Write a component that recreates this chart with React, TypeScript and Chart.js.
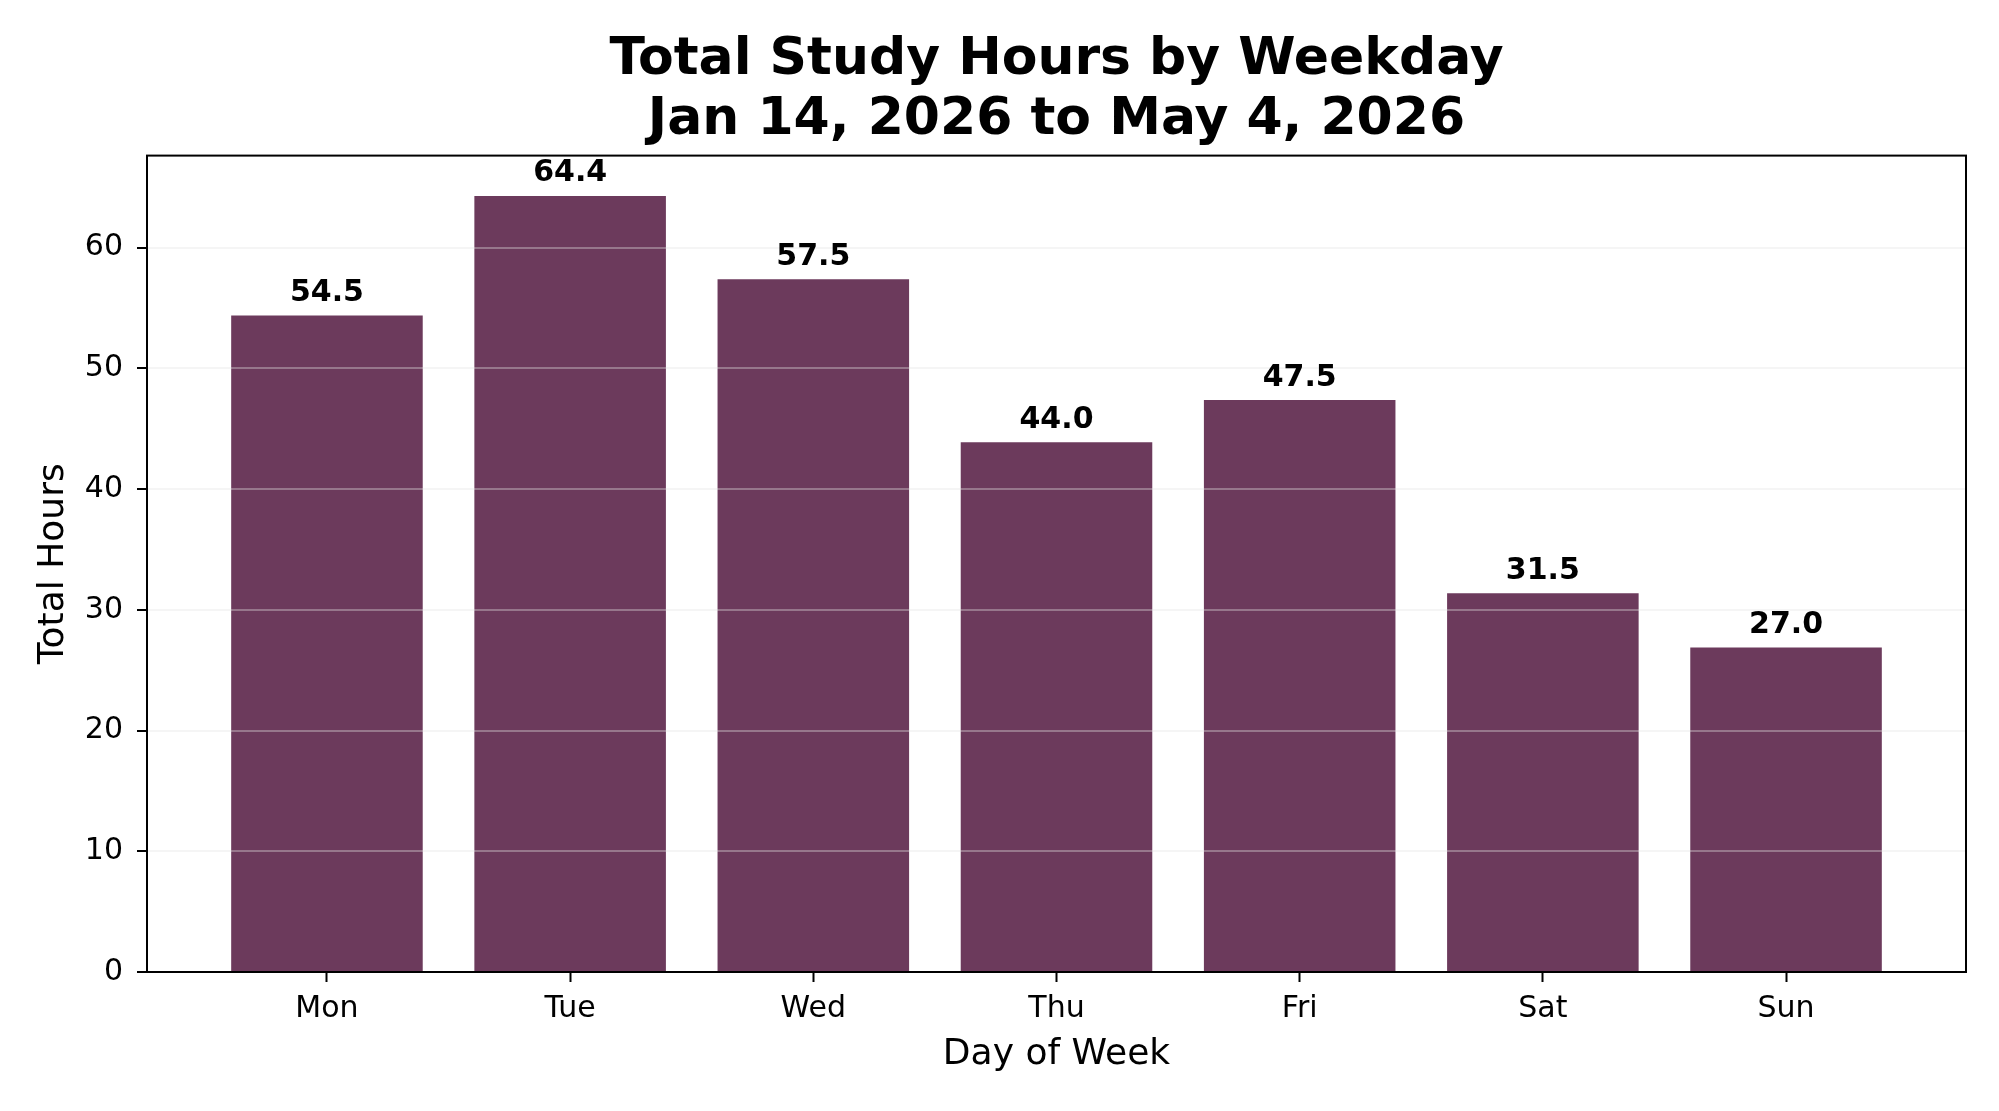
import { useEffect, useRef } from "react";
import { Chart, registerables } from "chart.js";

Chart.register(...registerables);

const days = ["Mon", "Tue", "Wed", "Thu", "Fri", "Sat", "Sun"];
const hours = [54.5, 64.4, 57.5, 44.0, 47.5, 31.5, 27.0];
const yTicks = [0, 10, 20, 30, 40, 50, 60];
const titleLines = ["Total Study Hours by Weekday", "Jan 14, 2026 to May 4, 2026"];

const FONT = "DejaVu Sans";
const BAR_COLOR = "#6c3a5c";
const GRID_COLOR = "rgba(227,227,227,0.36)";

// matplotlib-style limits: 5% margin around bars / data
const xMin = -0.4 - 0.05 * (days.length - 1 + 0.8);
const xMax = days.length - 1 + 0.4 + 0.05 * (days.length - 1 + 0.8);
const yMax = Math.max(...hours) * 1.05;

// full box round the plot area, like matplotlib spines
const frame = {
  id: "frame",
  afterDraw(chart: Chart) {
    const { ctx, chartArea: a } = chart;
    ctx.save();
    ctx.strokeStyle = "#000";
    ctx.lineWidth = 2;
    ctx.strokeRect(a.left, a.top, a.right - a.left, a.bottom - a.top);
    ctx.restore();
  },
};

const barLabels = {
  id: "barLabels",
  afterDraw(chart: Chart) {
    const { ctx } = chart;
    const meta = chart.getDatasetMeta(0);
    ctx.save();
    ctx.font = `bold 30px '${FONT}'`;
    ctx.fillStyle = "#000";
    ctx.textAlign = "center";
    ctx.textBaseline = "alphabetic";
    meta.data.forEach((bar: any, i: number) => {
      ctx.fillText(hours[i].toFixed(1), bar.x, bar.y - 13);
    });
    ctx.restore();
  },
};

export default function App() {
  const canvasRef = useRef<HTMLCanvasElement>(null);
  const chartRef = useRef<Chart | null>(null);

  useEffect(() => {
    if (!canvasRef.current) return;
    Chart.defaults.font.family = FONT;
    Chart.defaults.color = "#000";

    chartRef.current?.destroy();
    chartRef.current = new Chart(canvasRef.current, {
      type: "bar",
      data: {
        datasets: [
          {
            label: "Total Hours",
            data: hours.map((h, i) => ({ x: i, y: h })),
            backgroundColor: BAR_COLOR,
            borderColor: "rgba(255,255,255,0.45)",
            borderWidth: 1.5,
            categoryPercentage: 1,
            barPercentage: 0.8,
          },
        ],
      },
      options: {
        animation: false,
        responsive: true,
        maintainAspectRatio: false,
        layout: { padding: { left: 28, right: 33, top: 0, bottom: 31 } },
        plugins: {
          legend: { display: false },
          tooltip: { enabled: false },
          title: {
            display: true,
            fullSize: false,
            text: titleLines,
            color: "#000",
            font: { family: FONT, size: 52, weight: "bold", lineHeight: 1.15 },
            padding: { top: 31, bottom: 5 },
          },
        },
        scales: {
          x: {
            type: "linear",
            min: xMin,
            max: xMax,
            offset: false,
            afterBuildTicks: (axis: any) => {
              axis.ticks = days.map((_, i) => ({ value: i }));
            },
            afterFit: (axis: any) => {
              axis.height = 108;
            },
            ticks: {
              callback: (v: any) => days[v] ?? "",
              font: { family: FONT, size: 30 },
              color: "#000",
              padding: 9,
              maxRotation: 0,
              autoSkip: false,
            },
            grid: {
              offset: false,
              drawOnChartArea: false,
              drawTicks: true,
              tickLength: 10,
              tickWidth: 2,
              tickColor: "#000",
            },
            border: { display: true, color: "#000", width: 2 },
            title: {
              display: true,
              text: "Day of Week",
              color: "#000",
              font: { family: FONT, size: 36 },
              padding: { top: 4, bottom: 4 },
            },
          },
          y: {
            min: 0,
            max: yMax,
            afterBuildTicks: (axis: any) => {
              axis.ticks = yTicks.map((v) => ({ value: v }));
            },
            afterFit: (axis: any) => {
              axis.width = 119;
            },
            ticks: {
              font: { family: FONT, size: 30 },
              color: "#000",
              padding: 14,
              includeBounds: false,
            },
            grid: {
              z: 1,
              color: (c: any) => (c.tick && c.tick.value === 0 ? "rgba(0,0,0,0)" : GRID_COLOR),
              lineWidth: 2,
              drawTicks: true,
              tickLength: 10,
              tickWidth: 2,
              tickColor: "#000",
            },
            border: { display: false },
            title: {
              display: true,
              text: "Total Hours",
              color: "#000",
              font: { family: FONT, size: 36 },
              padding: { top: 4, bottom: 4 },
            },
          },
        },
      },
      plugins: [frame, barLabels],
    });

    return () => chartRef.current?.destroy();
  }, []);

  return (
    <div style={{ position: "fixed", left: 0, top: 0, width: 1999, height: 1111, background: "#fff" }}>
      <canvas ref={canvasRef} />
    </div>
  );
}
